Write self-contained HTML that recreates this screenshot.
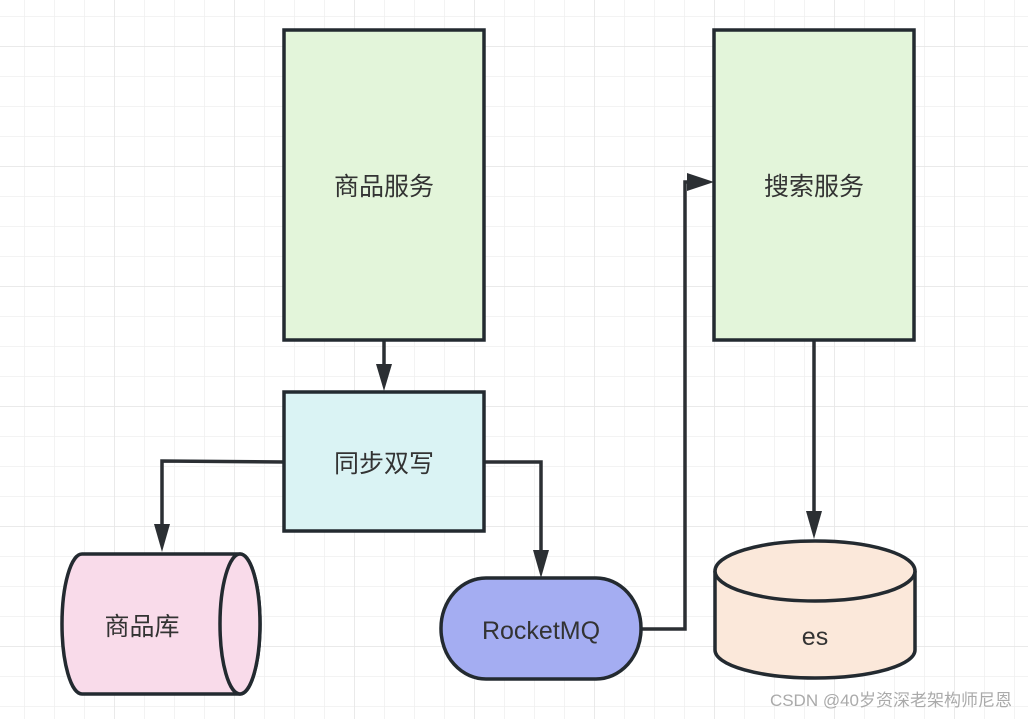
<!DOCTYPE html>
<html><head><meta charset="utf-8"><style>
html,body{margin:0;padding:0;background:#fff}
svg{display:block}
text{font-family:"Liberation Sans","Noto Sans CJK SC",sans-serif;fill:#333}
</style></head><body>
<svg width="1028" height="719" viewBox="0 0 1028 719" xmlns="http://www.w3.org/2000/svg">
<defs>
<pattern id="g" x="24" y="16" width="30" height="30" patternUnits="userSpaceOnUse">
<path d="M0 0V30M0 0H30" stroke="#efefef" stroke-width="1.5" fill="none"/>
</pattern>
<pattern id="G" x="114" y="46" width="120" height="120" patternUnits="userSpaceOnUse">
<path d="M0 0V120M0 0H120" stroke="#e6e6e6" stroke-width="1.5" fill="none"/>
</pattern>
</defs>
<rect width="1028" height="719" fill="url(#g)"/>
<rect width="1028" height="719" fill="url(#G)"/>
<g stroke="#2b2f33" stroke-width="3.5" fill="none">
<polyline points="384,340 384,376"/>
<polyline points="284,462 162,461 162,537"/>
<polyline points="484,462 541,462 541,562"/>
<polyline points="641,629 685,629 685,182 698,182"/>
<polyline points="814,340 814,524"/>
</g>
<g fill="#2b2f33">
<polygon points="376,364 392,364 384,391"/>
<polygon points="154,524 170,524 162,552"/>
<polygon points="533,550 549,550 541,578"/>
<polygon points="687,173 687,191 714,182"/>
<polygon points="806,511 822,511 814,539"/>
</g>
<g stroke="#232a30" stroke-width="3.5">
<rect x="284" y="30" width="200" height="310" fill="#e3f5da"/>
<rect x="714" y="30" width="200" height="310" fill="#e3f5da"/>
<rect x="284" y="392" width="200" height="139" fill="#daf3f4"/>
<path d="M82 554 H240 A20 70 0 0 1 240 694 H82 A20 70 0 0 1 82 554Z" fill="#f9dbea"/>
<ellipse cx="240" cy="624" rx="20" ry="70" fill="#f9dbea"/>
<rect x="441" y="578" width="200" height="101" rx="45" ry="50" fill="#a4adf2"/>
<path d="M715 571 V650 A100 28 0 0 0 915 650 V571" fill="#fbe8da"/>
<ellipse cx="815" cy="571" rx="100" ry="30" fill="#fbe8da"/>
</g>
<g font-size="25" text-anchor="middle">
<text x="384" y="195">商品服务</text>
<text x="814" y="195">搜索服务</text>
<text x="384" y="472">同步双写</text>
<text x="142" y="635">商品库</text>
<text x="541" y="639">RocketMQ</text>
<text x="815" y="645">es</text>
</g>
<text x="1012" y="706" font-size="17" text-anchor="end" style="fill:#aaa">CSDN @40岁资深老架构师尼恩</text>
</svg>
</body></html>
